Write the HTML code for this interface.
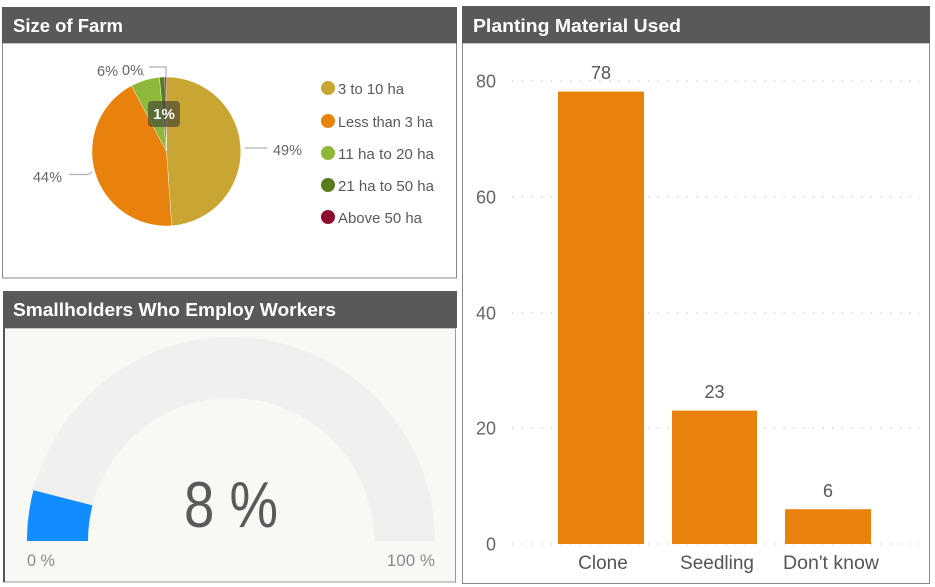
<!DOCTYPE html>
<html>
<head>
<meta charset="utf-8">
<style>
  html,body{margin:0;padding:0;background:#fff;}
  body{width:935px;height:587px;overflow:hidden;}
  svg{display:block;font-family:"Liberation Sans",sans-serif;}
</style>
</head>
<body>
<svg width="935" height="587" viewBox="0 0 935 587" xmlns="http://www.w3.org/2000/svg">
  <rect x="0" y="0" width="935" height="587" fill="#ffffff"/>

  <!-- ============ Panel 1: Size of Farm ============ -->
  <rect x="2.5" y="43" width="454" height="235" fill="#ffffff" stroke="#8a8a8a" stroke-width="1"/>
  <rect x="2" y="7" width="455" height="36" fill="#595959"/>
  <text x="13" y="32" font-size="18" font-weight="bold" fill="#ffffff" textLength="110" lengthAdjust="spacingAndGlyphs">Size of Farm</text>

  <!-- pie -->
  <g stroke="#ffffff" stroke-width="0.4">
    <path d="M166.5,151.5 L166.5,77 A74.5,74.5 0 0 1 171.7,225.8 Z" fill="#c9a634"/>
    <path d="M166.5,151.5 L171.7,225.8 A74.5,74.5 0 0 1 131.5,85.7 Z" fill="#e8820c"/>
    <path d="M166.5,151.5 L131.5,85.7 A74.5,74.5 0 0 1 159.4,77.3 Z" fill="#8db83a"/>
    <path d="M166.5,151.5 L159.4,77.3 A74.5,74.5 0 0 1 164.9,77.0 Z" fill="#5a7a1e"/>
    <path d="M166.5,151.5 L164.9,77.0 A74.5,74.5 0 0 1 166.5,77 Z" fill="#8b0a2e"/>
  </g>
  <!-- leader lines -->
  <g stroke="#b0b0b0" stroke-width="1.2" fill="none">
    <path d="M245,148 L267,148"/>
    <path d="M69,174.5 L88,174.5 L92,172"/>
    <path d="M149,67 L166,67 L166,77"/>
    <path d="M141,71 L144,76"/>
  </g>
  <g font-size="15" fill="#666666">
    <text x="273" y="155" textLength="29" lengthAdjust="spacingAndGlyphs">49%</text>
    <text x="33" y="182" textLength="29" lengthAdjust="spacingAndGlyphs">44%</text>
    <text x="97" y="76" textLength="21" lengthAdjust="spacingAndGlyphs">6%</text>
    <text x="122" y="75" textLength="21" lengthAdjust="spacingAndGlyphs">0%</text>
  </g>
  <rect x="148" y="101" width="32" height="26" rx="4" fill="rgba(62,62,48,0.62)"/>
  <text x="164" y="119" font-size="15" font-weight="bold" fill="#ffffff" text-anchor="middle">1%</text>

  <!-- legend -->
  <g font-size="15" fill="#595959">
    <circle cx="328" cy="88" r="7" fill="#c9a634"/>
    <text x="338" y="94" textLength="66" lengthAdjust="spacingAndGlyphs">3 to 10 ha</text>
    <circle cx="328" cy="121" r="7" fill="#e8820c"/>
    <text x="338" y="127" textLength="95" lengthAdjust="spacingAndGlyphs">Less than 3 ha</text>
    <circle cx="328" cy="153" r="7" fill="#8db83a"/>
    <text x="338" y="159" textLength="96" lengthAdjust="spacingAndGlyphs">11 ha to 20 ha</text>
    <circle cx="328" cy="185" r="7" fill="#5a7a1e"/>
    <text x="338" y="191" textLength="96" lengthAdjust="spacingAndGlyphs">21 ha to 50 ha</text>
    <circle cx="328" cy="217" r="7" fill="#8b0a2e"/>
    <text x="338" y="223" textLength="84" lengthAdjust="spacingAndGlyphs">Above 50 ha</text>
  </g>

  <!-- ============ Panel 2: Gauge ============ -->
  <rect x="3.5" y="328" width="452" height="254" fill="#f8f9f4" stroke="#9a9a9a" stroke-width="1"/>
  <line x1="4" y1="328" x2="4" y2="582" stroke="#555555" stroke-width="2"/>
  <rect x="3" y="291" width="454" height="37" fill="#595959"/>
  <text x="13" y="316" font-size="18" font-weight="bold" fill="#ffffff" textLength="323" lengthAdjust="spacingAndGlyphs">Smallholders Who Employ Workers</text>

  <path d="M27,541 A204,204 0 0 1 435,541 L374,541 A143,143 0 0 0 88,541 Z" fill="#f1f0ee"/>
  <path d="M27,541 A204,204 0 0 1 33.4,490.3 L92.5,505.4 A143,143 0 0 0 88,541 Z" fill="#118dff"/>
  <text x="184" y="527" font-size="65" fill="#5a5a5a" textLength="94" lengthAdjust="spacingAndGlyphs">8 %</text>
  <text x="27" y="566" font-size="17" fill="#8a8a8a" textLength="28" lengthAdjust="spacingAndGlyphs">0 %</text>
  <text x="435" y="566" font-size="17" fill="#8a8a8a" text-anchor="end">100 %</text>

  <!-- ============ Panel 3: Planting Material Used ============ -->
  <rect x="462.5" y="43" width="467" height="540.5" fill="#ffffff" stroke="#8a8a8a" stroke-width="1"/>
  <rect x="462" y="6" width="468" height="37" fill="#595959"/>
  <text x="473" y="32" font-size="18" font-weight="bold" fill="#ffffff" textLength="208" lengthAdjust="spacingAndGlyphs">Planting Material Used</text>

  <!-- gridlines -->
  <g stroke="#c8c8c8" stroke-width="1.3" stroke-dasharray="1.3 8.4">
    <line x1="512" y1="81" x2="920" y2="81"/>
    <line x1="512" y1="197" x2="920" y2="197"/>
    <line x1="512" y1="313" x2="920" y2="313"/>
    <line x1="512" y1="428" x2="920" y2="428"/>
    <line x1="512" y1="544" x2="920" y2="544"/>
  </g>
  <!-- y ticks -->
  <g font-size="18" fill="#666666" text-anchor="end">
    <text x="496" y="87.5">80</text>
    <text x="496" y="203.5">60</text>
    <text x="496" y="319.5">40</text>
    <text x="496" y="434.5">20</text>
    <text x="496" y="550.5">0</text>
  </g>
  <!-- bars -->
  <g fill="#e8820c">
    <rect x="558" y="91.6" width="86" height="452.4"/>
    <rect x="672" y="410.6" width="85" height="133.4"/>
    <rect x="785" y="509.2" width="86" height="34.8"/>
  </g>
  <!-- value labels -->
  <g font-size="18" fill="#555555" text-anchor="middle">
    <text x="601" y="79">78</text>
    <text x="714.5" y="398">23</text>
    <text x="828" y="497">6</text>
  </g>
  <!-- category labels -->
  <g font-size="19" fill="#555555" text-anchor="middle">
    <text x="603" y="569">Clone</text>
    <text x="717" y="569">Seedling</text>
    <text x="831" y="569" textLength="96" lengthAdjust="spacingAndGlyphs">Don't know</text>
  </g>
</svg>
</body>
</html>
